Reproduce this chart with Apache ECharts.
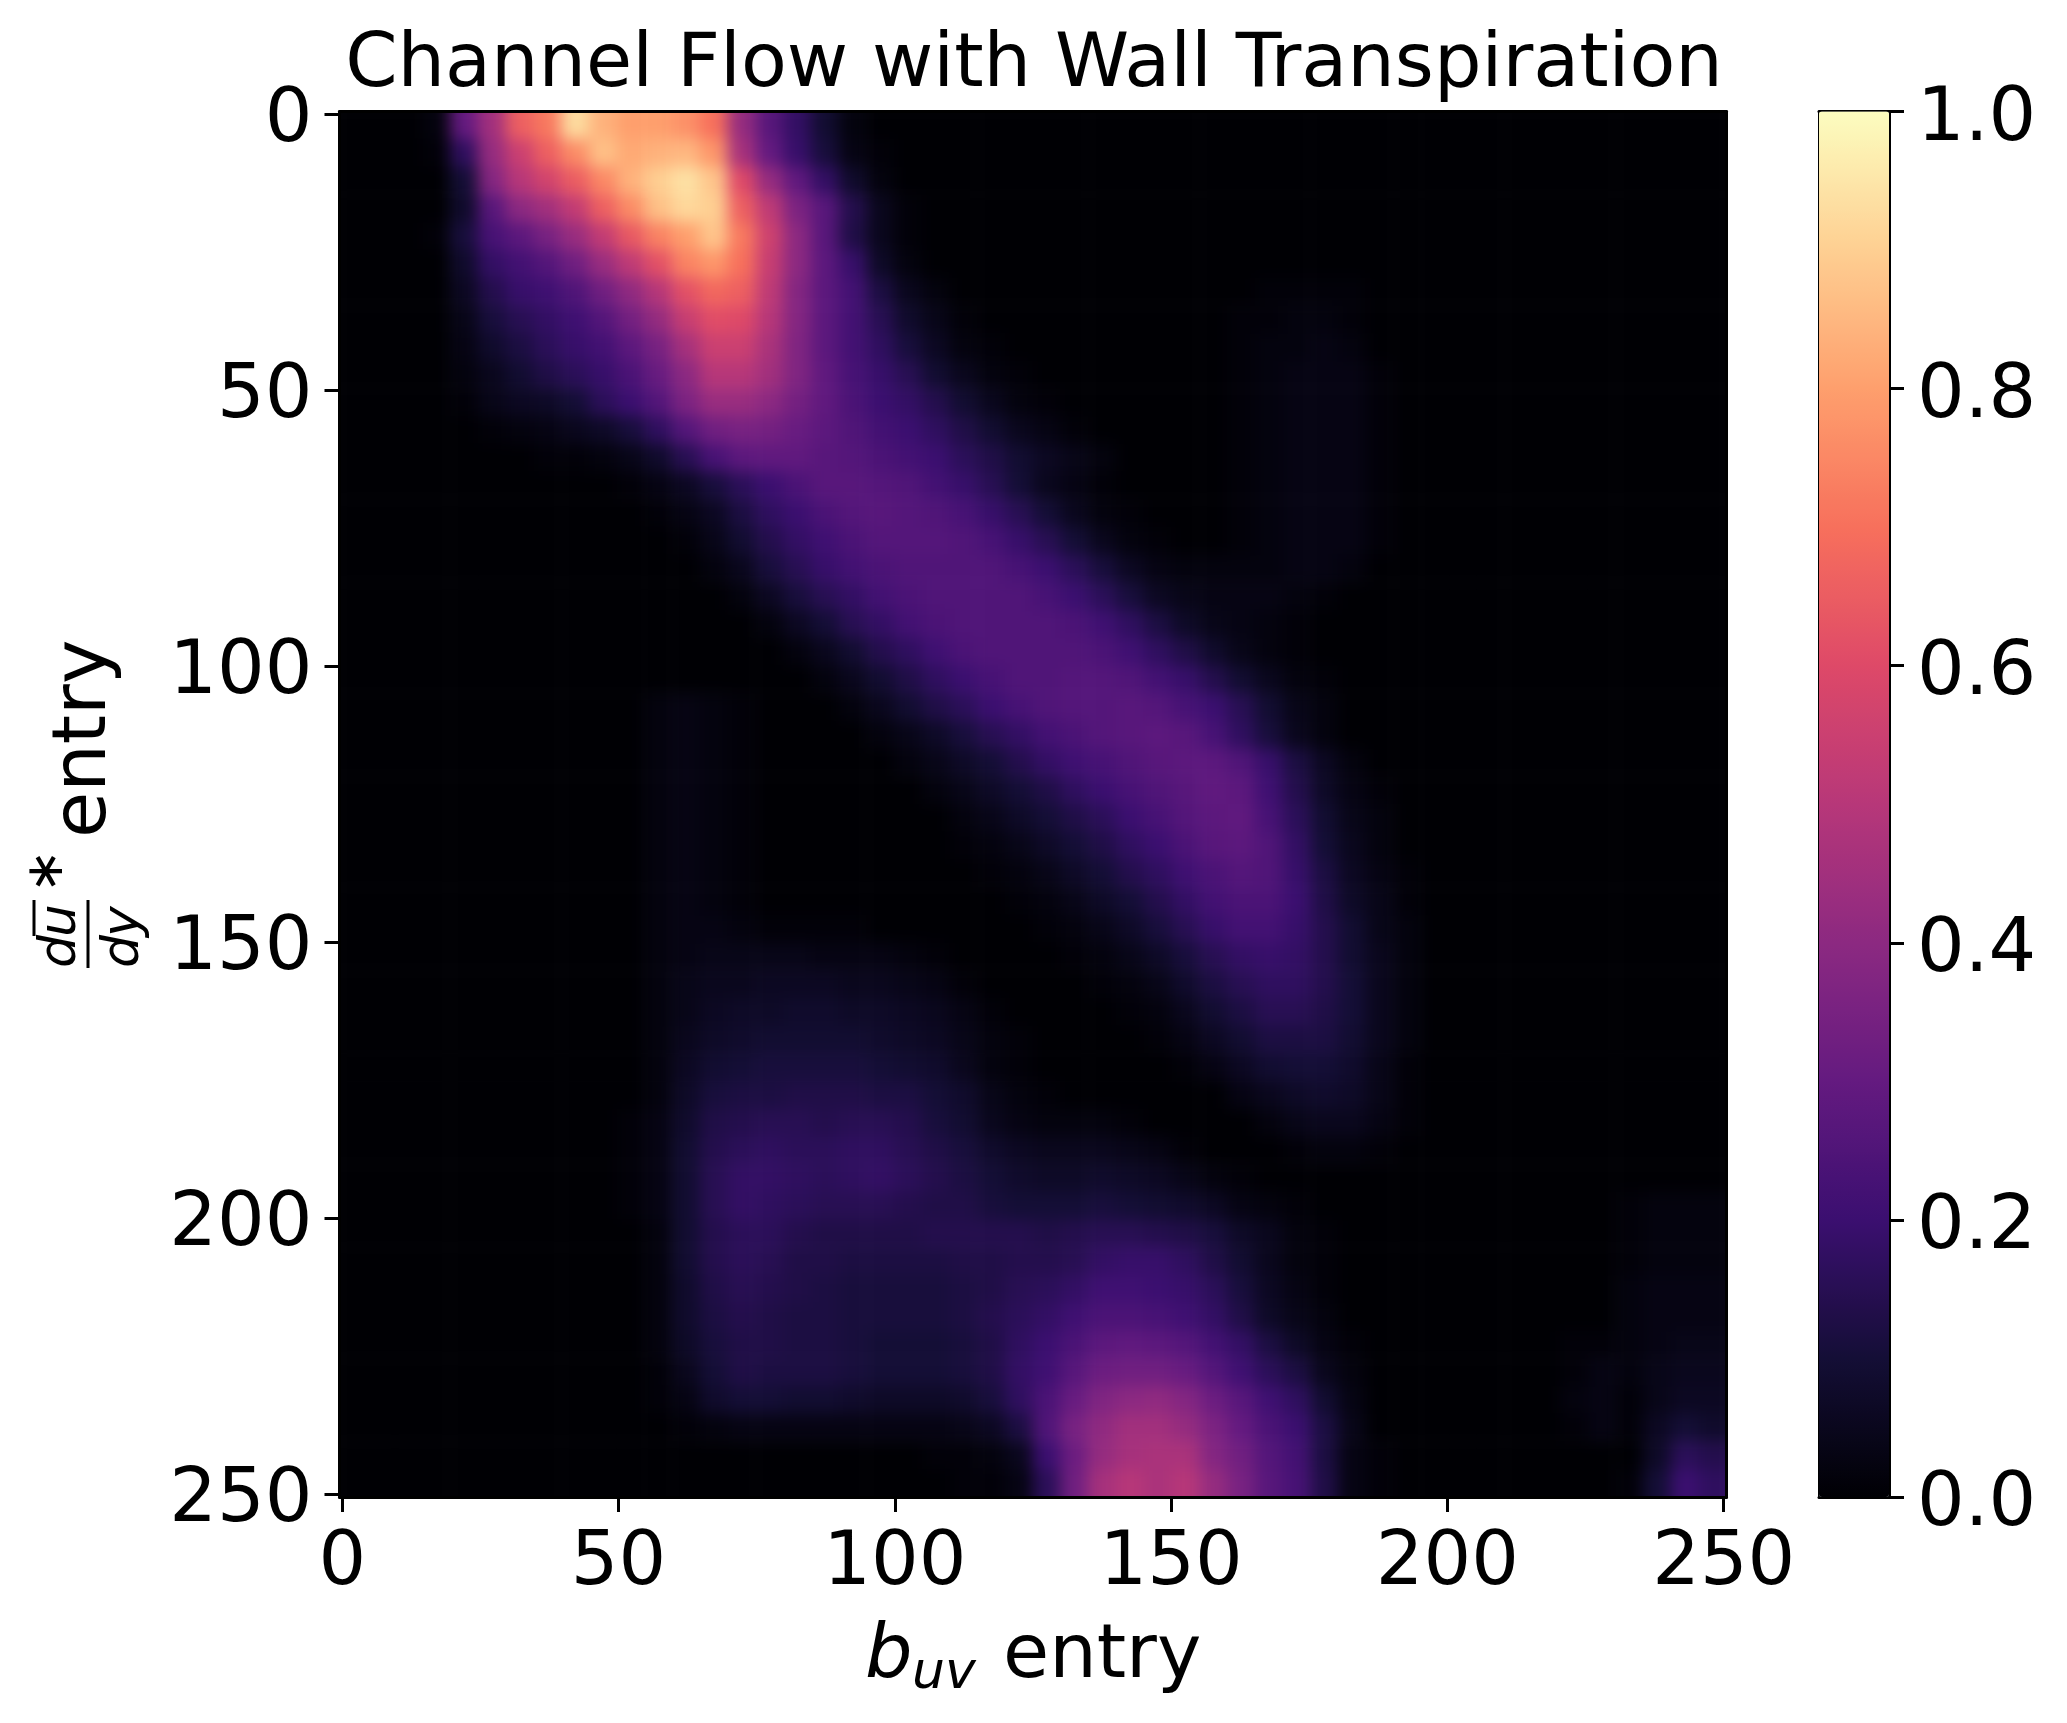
<!DOCTYPE html>
<html><head><meta charset="utf-8">
<script src="https://cdn.jsdelivr.net/npm/echarts@6/dist/echarts.min.js"></script>
<style>html,body{margin:0;padding:0;background:#fff}#c{width:2067px;height:1723px}</style>
</head><body><div id="c"></div>
<script>
const titleText = 'Channel Flow with Wall Transpiration';
const xTicks = [0, 50, 100, 150, 200, 250];
const yTicks = [0, 50, 100, 150, 200, 250];
const colorbarTicks = [0, 0.2, 0.4, 0.6, 0.8, 1];
const magma = ['#000004','#140e36','#3b0f70','#641a80','#8c2981','#b73779','#de4968','#f7705c','#fe9f6d','#fecf92','#fcfdbf'];
// Values in percent, read by eye. Each row spans 5 entries of the y axis, each column 5 entries of the x axis.
const heatRows = [
[0,0,0,2,30,45,66,72,93,84, 80,80,77,70,42,27,18,9,2,0],
[0,0,0,1,17,42,55,66,76,87, 82,84,85,78,46,30,19,11,3,1],
[0,0,0,0,10,38,50,57,65,75, 84,90,94,88,60,42,29,18,8,2],
[0,0,0,0,8,27,40,45,53,66, 76,87,92,90,66,52,36,27,14,5, 1],
[0,0,0,1,11,23,28,35,43,53, 64,74,80,88,72,56,40,27,13,5, 1],
[0,0,0,0,8,18,22,26,33,43, 52,62,74,78,70,54,40,28,19,7, 2],
[0,0,0,0,6,14,19,21,25,33, 41,50,62,68,66,52,38,28,22,12, 5,2,0,0,0,0,0,0,0,0, 0,0,0,1,1,1,1],
[0,0,0,0,4,11,15,18,21,26, 34,42,54,61,60,50,38,28,22,15, 8,4,1,0,0,0,0,0,0,0, 0,0,1,1,2,2,1],
[0,0,0,0,3,8,12,16,19,22, 28,35,46,55,55,47,37,28,22,17, 11,6,2,1,0,0,0,0,0,0, 0,0,1,2,2,3,2],
[0,0,0,0,2,5,9,13,16,19, 24,31,40,50,50,45,37,29,23,19, 15,9,5,2,1,0,0,0,0,0, 0,0,1,2,3,3,3,1],
[0,0,0,0,1,4,6,7,10,16, 20,26,36,43,43,40,34,29,24,20, 18,14,9,5,2,1,0,0,0,0, 0,0,1,2,3,3,3,1],
[0,0,0,0,0,1,2,3,5,7, 11,17,26,33,35,34,31,28,25,22, 20,17,13,9,5,3,1,0,0,0, 0,0,1,2,3,3,3,1],
[0,0,0,0,0,0,0,1,1,2, 4,8,15,23,28,29,29,27,26,24, 22,20,16,13,9,6,4,2,0,0, 0,0,1,2,3,3,3,1],
[0,0,0,0,0,0,0,0,0,0, 1,3,6,11,16,20,24,27,27,26, 25,22,19,15,10,5,3,1,0,0, 0,0,1,2,3,3,3,1],
[0,0,0,0,0,0,0,0,0,0, 0,1,3,6,12,17,20,24,26,27, 26,25,23,19,15,10,5,2,1,0, 0,0,1,2,3,3,3,1],
[0,0,0,0,0,0,0,0,0,0, 0,0,1,4,9,14,18,21,24,26, 26,26,25,23,19,15,10,5,2,1, 0,0,1,2,3,3,3,1],
[0,0,0,0,0,0,0,0,0,0, 0,0,0,2,5,11,15,19,22,24, 25,25,25,25,23,20,16,11,6,3, 2,2,2,2,3,3,2,0],
[0,0,0,0,0,0,0,0,0,0, 0,0,0,0,2,6,11,15,18,22, 24,25,25,25,25,23,20,16,11,6, 4,3,3,3,2,1],
[0,0,0,0,0,0,0,0,0,0, 0,0,0,0,0,2,6,10,15,18, 22,24,25,25,25,25,24,21,17,12, 7,4,3,2,1],
[0,0,0,0,0,0,0,0,0,0, 0,0,0,0,0,0,2,5,9,14, 17,21,24,25,25,25,25,24,21,17, 13,8,4,2,1],
[0,0,0,0,0,0,0,0,0,0, 0,0,0,0,0,0,0,2,5,9, 13,17,20,23,25,25,26,26,25,22, 19,14,9,5,2,1],
[0,0,0,0,0,0,0,0,0,0, 0,2,3,2,1,0,0,0,2,5, 9,13,16,20,23,25,26,26,27,26, 23,20,15,9,4,2],
[0,0,0,0,0,0,0,0,0,0, 0,2,3,2,1,0,0,0,0,2, 4,7,11,15,18,22,24,26,27,28, 27,23,17,11,5,2],
[0,0,0,0,0,0,0,0,0,0, 0,2,3,2,1,0,0,0,0,0, 2,4,7,10,14,18,21,23,25,27, 28,28,25,19,12,6,2],
[0,0,0,0,0,0,0,0,0,0, 0,2,3,2,1,0,0,0,0,0, 0,2,4,7,10,13,17,20,23,25, 27,29,28,21,14,7,3,1],
[0,0,0,0,0,0,0,0,0,0, 0,2,3,2,1,0,0,0,0,0, 0,0,2,4,7,10,13,16,20,23, 26,28,29,23,16,9,4,2],
[0,0,0,0,0,0,0,0,0,0, 0,2,3,2,1,0,0,0,0,0, 0,0,1,2,4,7,10,13,17,20, 24,27,28,25,18,10,5,2],
[0,0,0,0,0,0,0,0,0,0, 0,2,3,2,1,0,0,0,0,0, 0,0,0,1,2,4,7,10,14,17, 21,24,26,25,19,12,6,3,1],
[0,0,0,0,0,0,0,0,0,0, 0,2,3,2,1,0,0,0,0,0, 0,0,0,0,1,2,4,7,10,14, 18,22,24,24,20,13,7,4,1],
[0,0,0,0,0,0,0,0,0,0, 0,2,3,3,2,1,1,1,1,0, 0,0,0,0,0,1,2,4,7,11, 15,19,22,22,19,14,9,4,2],
[0,0,0,0,0,0,0,0,0,0, 0,2,3,4,4,4,4,3,3,3, 2,1,0,0,0,0,1,2,4,7, 11,15,18,19,18,14,9,5,2],
[0,0,0,0,0,0,0,0,0,0, 0,2,4,5,5,6,6,6,5,5, 4,3,1,0,0,0,0,1,2,4, 8,12,15,17,17,14,10,5,2],
[0,0,0,0,0,0,0,0,0,0, 0,2,4,6,7,7,8,8,7,7, 6,5,3,1,0,0,0,0,1,2, 5,9,12,15,15,13,10,5,2],
[0,0,0,0,0,0,0,0,0,0, 0,2,5,7,8,9,9,9,9,8, 7,6,4,2,1,0,0,0,0,1, 3,6,9,12,12,12,9,5,2],
[0,0,0,0,0,0,0,0,0,0, 0,2,6,9,10,11,11,11,11,10, 9,8,5,2,1,0,0,0,0,0, 1,3,6,9,10,10,8,4,1],
[0,0,0,0,0,0,0,0,0,0, 0,2,7,11,12,12,13,13,13,12, 12,10,8,4,2,1,0,0,0,0, 0,0,3,5,7,8,7,4,1],
[0,0,0,0,0,0,0,0,0,0, 1,3,8,13,14,15,15,14,15,15, 14,11,9,5,3,2,2,2,1,0, 0,0,0,2,4,5,5,3,1],
[0,0,0,0,0,0,0,0,0,0, 1,3,9,14,16,17,16,16,17,17, 15,13,11,8,6,5,5,5,4,3, 1,0,0,0,1,2,2,1],
[0,0,0,0,0,0,0,0,0,0, 1,3,9,15,18,18,17,16,17,18, 16,14,12,10,8,7,7,8,7,6, 4,2,1],
[0,0,0,0,0,0,0,0,0,0, 1,3,9,15,18,17,16,15,15,15, 14,13,13,11,10,10,10,11,10,9, 8,6,3,2,1,0,0,0,0,0, 0,0,0,0,0,0,1,2,2,2],
[0,0,0,0,0,0,0,0,0,0, 0,2,9,14,16,16,14,13,13,13, 13,14,14,14,14,13,14,15,15,14, 13,11,7,5,2,1,0,0,0,0, 0,0,0,0,0,0,1,2,2,2],
[0,0,0,0,0,0,0,0,0,0, 0,2,9,14,16,15,13,13,12,12, 12,12,13,13,14,14,15,18,19,19, 17,13,9,5,2,1,0,0,0,0, 0,0,0,0,0,0,1,2,2,2],
[0,0,0,0,0,0,0,0,0,0, 0,2,8,13,15,14,13,12,11,11, 11,11,12,13,15,16,18,21,21,20, 19,16,11,6,3,1,0,0,0,0, 0,0,0,0,0,0,2,3,3,3],
[0,0,0,0,0,0,0,0,0,0, 0,2,8,12,14,13,12,12,11,11, 11,11,12,14,16,18,21,24,24,23, 21,18,13,7,4,2,0,0,0,0, 0,0,0,0,0,0,2,3,3,3],
[0,0,0,0,0,0,0,0,0,0, 0,2,7,11,13,13,12,12,11,10, 10,10,11,13,17,20,24,28,29,28, 26,22,18,12,7,3,1,0,0,0, 0,0,0,0,1,1,2,3,4,4],
[0,0,0,0,0,0,0,0,0,0, 0,1,5,10,13,12,12,12,11,10, 10,10,11,13,18,21,27,32,33,33, 31,26,21,16,12,5,2,0,0,0, 0,0,0,0,1,3,2,4,5,5],
[0,0,0,0,0,0,0,0,0,0, 0,1,3,8,10,10,9,9,8,7, 7,7,8,11,17,24,31,37,40,41, 38,32,27,21,17,9,3,0,0,0, 0,0,0,0,2,3,1,4,6,6],
[0,0,0,0,0,0,0,0,0,0, 0,0,1,2,3,3,3,3,3,3, 3,3,4,6,12,25,35,41,45,45, 42,36,30,24,20,12,4,0,0,0, 0,0,0,0,1,3,1,6,10,8],
[0,0,0,0,0,0,0,0,0,0, 0,0,0,0,0,0,0,0,0,0, 0,1,1,2,5,20,32,42,46,47, 47,38,33,26,22,12,3,1,0,0, 0,0,0,0,0,0,0,7,16,14],
[0,0,0,0,0,0,0,0,0,0, 0,0,0,0,0,0,0,0,0,0, 0,0,1,1,3,16,33,46,50,47, 50,42,35,27,23,13,3,1,0,0, 0,0,0,0,0,0,1,10,20,17]
];

const FONT = 'DejaVu Sans';
const N = 50, PAD = 3;
const plot = {left: 339.5, top: 111.5, width: 1387, height: 1385.5};
const bar = {left: 1819, top: 111.5, width: 70, height: 1385.5};
const cw = plot.width / N, ch = plot.height / N;

// Cells past the frame repeat the edge row/column so the smoothing does not fade at the frame.
const bins = Array.from({length: N + 2 * PAD}, (_, i) => String(i - PAD));
const clamp = i => Math.max(0, Math.min(N - 1, i));
const cells = [];
for (let r = 0; r < N + 2 * PAD; r++) for (let c = 0; c < N + 2 * PAD; c++) {
  const row = heatRows[clamp(r - PAD)];
  cells.push([c, r, (row[clamp(c - PAD)] || 0) / 100]);
}
const black = '#000';
const lineAxis = (extra) => Object.assign({
  type: 'value', zlevel: 1, scale: false, splitLine: {show: false},
  axisLine: {show: true, onZero: false, lineStyle: {color: black, width: 3}},
  axisTick: {show: false}, axisLabel: {show: false}
}, extra);
const tickStyle = {show: true, length: 15, lineStyle: {color: black, width: 3}};
const lbl = {show: true, color: black, fontFamily: FONT, fontSize: 75};
const txt = (text, x, y, size, extra, rot) => ({
  type: 'text', zlevel: 1, x, y, rotation: rot || 0, silent: true,
  style: Object.assign({text, x: 0, y: 0, fontFamily: FONT, fontSize: size, fill: black, textAlign: 'left', textVerticalAlign: 'bottom'}, extra || {})
});
const ital = {fontStyle: 'italic'};
const ROT = Math.PI / 2;

const chart = echarts.init(document.getElementById('c'), null, {renderer: 'canvas'});
chart.setOption({
  animation: false,
  backgroundColor: 'transparent',
  title: {text: titleText, zlevel: 1, left: 1029, top: 24, textAlign: 'center',
    textStyle: {color: black, fontFamily: FONT, fontSize: 75, fontWeight: 'normal'}},
  grid: [
    {left: plot.left - PAD * cw, top: plot.top - PAD * ch, width: plot.width + 2 * PAD * cw, height: plot.height + 2 * PAD * ch, containLabel: false},
    {left: plot.left, top: plot.top, width: plot.width, height: plot.height, containLabel: false},
    {left: bar.left, top: bar.top, width: bar.width, height: bar.height, containLabel: false}
  ],
  xAxis: [
    {type: 'category', gridIndex: 0, data: bins, show: false},
    lineAxis({gridIndex: 1, position: 'bottom', min: -0.5, max: 250.5,
      axisTick: Object.assign({customValues: xTicks}, tickStyle),
      axisLabel: Object.assign({customValues: xTicks, margin: 30}, lbl)}),
    lineAxis({gridIndex: 1, position: 'top', min: -0.5, max: 250.5}),
    lineAxis({gridIndex: 2, position: 'bottom', min: 0, max: 1}),
    lineAxis({gridIndex: 2, position: 'top', min: 0, max: 1})
  ],
  yAxis: [
    {type: 'category', gridIndex: 0, data: bins, inverse: true, show: false},
    lineAxis({gridIndex: 1, position: 'left', inverse: true, min: -0.5, max: 250.5,
      axisTick: Object.assign({customValues: yTicks}, tickStyle),
      axisLabel: Object.assign({customValues: yTicks, margin: 27, verticalAlign: 'top', lineHeight: 14}, lbl)}),
    lineAxis({gridIndex: 1, position: 'right', inverse: true, min: -0.5, max: 250.5}),
    lineAxis({gridIndex: 2, position: 'right', min: 0, max: 1,
      axisTick: Object.assign({customValues: colorbarTicks}, tickStyle),
      axisLabel: Object.assign({customValues: colorbarTicks, margin: 28, verticalAlign: 'top', lineHeight: 18, formatter: v => v.toFixed(1)}, lbl)}),
    lineAxis({gridIndex: 2, position: 'left', min: 0, max: 1})
  ],
  visualMap: {
    type: 'continuous', min: 0, max: 1, seriesIndex: 0, dimension: 2, zlevel: 1,
    left: bar.left, top: bar.top, itemWidth: bar.width, itemHeight: bar.height, padding: 0,
    calculable: false, hoverLink: false, inRange: {color: magma}, text: null, showLabel: false
  },
  series: [{
    type: 'heatmap', xAxisIndex: 0, yAxisIndex: 0, data: cells, zlevel: 0, progressive: 0, silent: true,
    itemStyle: {borderWidth: 0}, emphasis: {disabled: true}
  }],
  graphic: {elements: [
    txt('b', 865, 1695, 75, ital),
    txt('uv', 912, 1700, 52, ital),
    txt('entry', 1003, 1695, 75),
    txt('entry', 123, 838, 75, null, ROT),
    txt('d', 87, 968, 52, ital, ROT),
    txt('u', 87, 937, 52, ital, ROT),
    txt('∗', 74, 893, 52, null, ROT),
    txt('d', 150, 968, 52, ital, ROT),
    txt('y', 150, 937, 52, ital, ROT),
    {type: 'line', zlevel: 1, silent: true, shape: {x1: 88, y1: 900, x2: 88, y2: 968}, style: {stroke: black, lineWidth: 3}},
    {type: 'line', zlevel: 1, silent: true, shape: {x1: 34, y1: 900, x2: 34, y2: 936}, style: {stroke: black, lineWidth: 3}}
  ]}
});
// Smooth only the heatmap's own canvas layer and crop it to the frame.
const layer = document.querySelector('#c canvas[data-zr-dom-id="zr_0"]');
if (layer) {
  layer.style.filter = 'blur(8px)';
  layer.style.clipPath = `inset(${plot.top}px ${2067 - plot.left - plot.width}px ${1723 - plot.top - plot.height}px ${plot.left}px)`;
}
</script></body></html>
